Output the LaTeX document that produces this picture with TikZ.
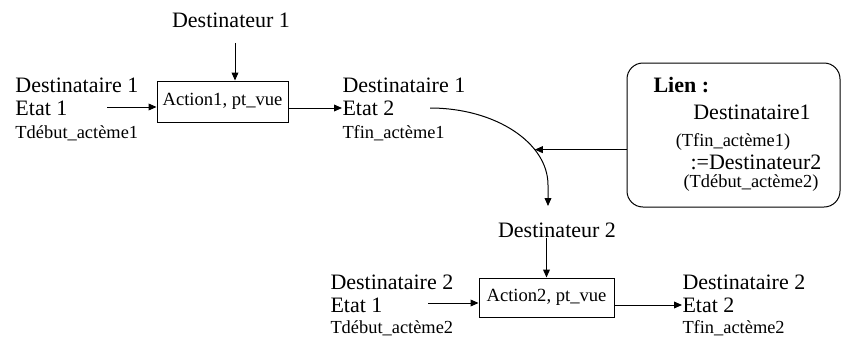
\documentclass[tikz,border=0pt]{standalone}
\usepackage{fontspec}
\setmainfont{Liberation Serif}
\usetikzlibrary{positioning,arrows.meta,calc}

\begin{document}
\begin{tikzpicture}[
  x=0.5pt, y=-0.5pt,
  >={Triangle[length=4pt,width=3.4pt]},
  line width=0.5pt,
  every node/.style={inner sep=0pt},
  big/.style={font=\fontsize{11}{13}\selectfont},
  sml/.style={font=\fontsize{9.2}{11}\selectfont},
  actbox/.style={draw, font=\fontsize{9.3}{11}\selectfont}
]
\useasboundingbox (0,0) rectangle (841,338);

% Nodes (coordinates in px of the 841x338 layout)
\node[big] (D1) at (231,20) {Destinateur 1};
\node[actbox, minimum width=65.5pt, minimum height=20.5pt] (A1) at (222.5,101.5) {Action1, pt\_vue};

\node[big, anchor=west] (R1-a) at (15,85)  {Destinataire 1};
\node[big, anchor=west] (R1-b) at (15,108) {Etat 1};
\node[sml, anchor=west] (R1-c) at (15,133) {Tdébut\_actème1};

\node[big, anchor=west] (R2-a) at (342,85)  {Destinataire 1};
\node[big, anchor=west] (R2-b) at (342,108) {Etat 2};
\node[sml, anchor=west] (R2-c) at (342,133) {Tfin\_actème1};

\node[draw, rounded corners=8pt, minimum width=106.5pt, minimum height=72pt] (Lien) at (733.5,135) {};
\node[big, anchor=west, font=\fontsize{11}{13}\selectfont\bfseries] (L-1) at (653,85) {Lien :};
\node[big] (L-2) at (752,112) {Destinataire1};
\node[sml] (L-3) at (733,142) {(Tfin\_actème1)};
\node[big] (L-4) at (756,162) {:=Destinateur2};
\node[sml] (L-5) at (751,183) {(Tdébut\_actème2)};

\node[big] (D2) at (557,230) {Destinateur 2};
\node[actbox, minimum width=67.5pt, minimum height=19.5pt] (A2) at (546.5,297.5) {Action2, pt\_vue};

\node[big, anchor=west] (R3-a) at (330,282) {Destinataire 2};
\node[big, anchor=west] (R3-b) at (330,305) {Etat 1};
\node[sml, anchor=west] (R3-c) at (330,328) {Tdébut\_actème2};

\node[big, anchor=west] (R4-a) at (682,282) {Destinataire 2};
\node[big, anchor=west] (R4-b) at (682,305) {Etat 2};
\node[sml, anchor=west] (R4-c) at (682,328) {Tfin\_actème2};

\coordinate (In1) at (107,107);
\coordinate (In2) at (428,303);
\coordinate (C1) at (430,108);
\coordinate (C2) at (548,206);

% Arrows
\draw[->] ([xshift=2pt,yshift=-7.5pt]D1.south) -- ([xshift=2pt]D1.south |- A1.north);
\draw[->] (In1) -- (In1 -| A1.west);
\draw[->] (A1.east |- R2-b.west) -- (R2-b.west);
\draw[->] (C1) .. controls (495,108) and (548,142.5) .. (548,185) coordinate[pos=0.7] (Hit) -- (C2);
\draw[->] (Hit -| Lien.west) -- (Hit);
\draw[->] (D2.south -| A2.north) -- (A2.north);
\draw[->] (In2) -- (In2 -| A2.west);
\draw[->] (A2.east |- R4-b.west) -- (R4-b.west);
\end{tikzpicture}
\end{document}
